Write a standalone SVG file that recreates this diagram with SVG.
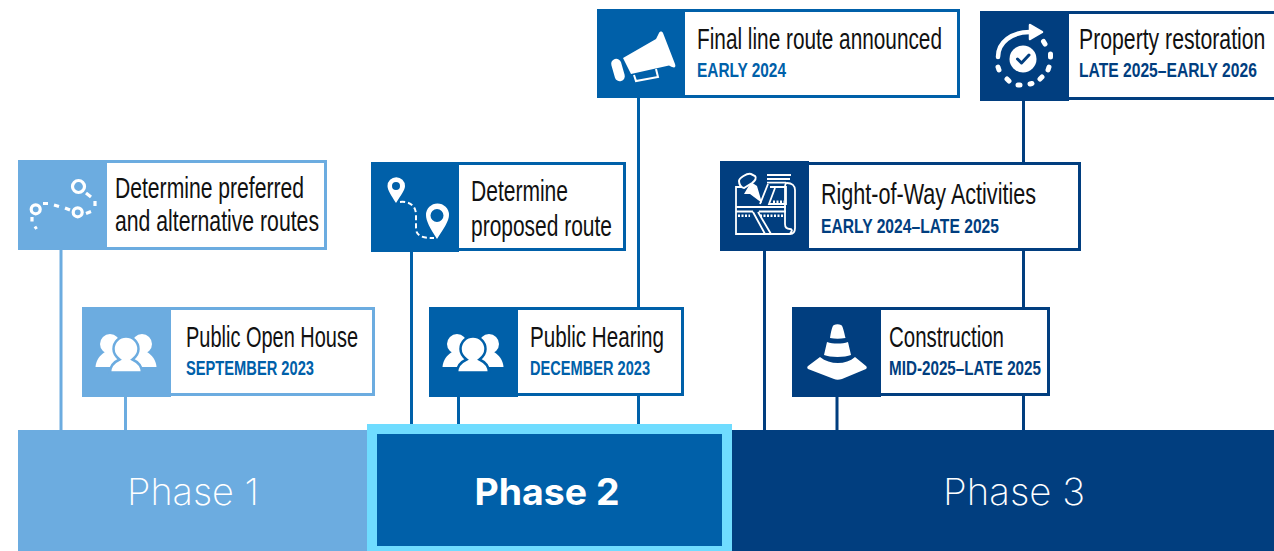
<svg xmlns="http://www.w3.org/2000/svg" xmlns:xlink="http://www.w3.org/1999/xlink" width="1274" height="551" viewBox="0 0 1274 551">
<style>
.t{font-family:"Liberation Sans",Arial,sans-serif;font-size:29px;fill:#111}
.d{font-family:"Liberation Sans",Arial,sans-serif;font-size:21px;font-weight:700}
.box{fill:#fff;stroke-width:3}
.p1 .box{stroke:#6cace0}.p1 .ic{fill:#6cace0}.p1 .d{fill:#0060a9}
.p2 .box{stroke:#0060a9}.p2 .ic{fill:#0060a9}.p2 .d{fill:#0060a9}
.p3 .box{stroke:#013e7f}.p3 .ic{fill:#013e7f}.p3 .d{fill:#013e7f}
.ph{font-family:Inter,"Liberation Sans",sans-serif;font-size:37px;fill:#fff;text-anchor:middle}
.w{fill:#fff}.wl{fill:none;stroke:#fff}
.c{stroke-width:3;fill:none}
</style>
<defs>
<g id="people">
<circle cx="-16" cy="-10" r="10" class="w"/><circle cx="16" cy="-10" r="10" class="w"/>
<path class="w" d="M-30.500 13C-30 6-26 1-21-2H21C26 1 30 6 30.500 13Z"/>
<path d="M-16 18.500C-16 12-12 8-6.500 5.500C-11 2-12.500-1-12.500-5A12.500 12.500 0 1 1 12.500-5C12.500-1 11 2 6.500 5.500C12 8 16 12 16 18.500Z" fill="#fff" stroke="var(--bg)" stroke-width="2.500"/>
</g>
</defs>
<g id="connectors" class="c">
<path stroke="#6cace0" d="M61 250V430M125.500 396V430"/>
<path stroke="#0060a9" d="M411.500 251V424M458.500 396V424M638.500 98V307M638.500 396V424"/>
<path stroke="#013e7f" d="M764.500 251V430M837 396V430M1023.500 100V162M1023.500 251V307M1023.500 396V430"/>
</g>
<g id="phase1"><rect x="18" y="430" width="350" height="121" fill="#6cace0"/><text class="ph" x="193" y="505" font-weight="200" textLength="132" lengthAdjust="spacingAndGlyphs">Phase 1</text></g>
<g id="phase3"><rect x="732" y="430" width="542" height="121" fill="#013e7f"/><text class="ph" x="1014" y="505" font-weight="200" textLength="142" lengthAdjust="spacingAndGlyphs">Phase 3</text></g>
<g id="phase2"><rect x="372" y="429" width="355" height="122" fill="#0060a9" stroke="#6fdcff" stroke-width="10"/><text class="ph" x="547" y="505" font-weight="700" textLength="145" lengthAdjust="spacingAndGlyphs">Phase 2</text></g>

<g id="n1" class="p1">
<rect class="box" x="19.500" y="161.500" width="306" height="87"/><rect class="ic" x="18" y="160" width="89" height="90"/>
<g class="wl" stroke-width="3.200"><circle cx="78.500" cy="186.500" r="6"/><circle cx="35.700" cy="209.300" r="4.500"/><circle cx="77.700" cy="212.300" r="4.500"/>
<path d="M43 203.500H48M54 205L59 206.500M65 208L70 210M86 213.500L91 211.500M95 206V201M86 193L91 197M32 217V221.500M34.500 228.500L37 227"/></g>
<text class="t" x="115" y="198" textLength="189" lengthAdjust="spacingAndGlyphs">Determine preferred</text>
<text class="t" x="115" y="231" textLength="204" lengthAdjust="spacingAndGlyphs">and alternative routes</text>
</g>
<g id="n2" class="p1" style="--bg:#6cace0">
<rect class="box" x="83.500" y="308.500" width="290" height="86"/><rect class="ic" x="82" y="307" width="89" height="90"/>
<use xlink:href="#people" href="#people" x="126" y="354"/>
<text class="t" x="186" y="347" textLength="172" lengthAdjust="spacingAndGlyphs">Public Open House</text>
<text class="d" x="186" y="375" textLength="128" lengthAdjust="spacingAndGlyphs">SEPTEMBER 2023</text>
</g>
<g id="n3" class="p2">
<rect class="box" x="372.500" y="163.500" width="252" height="86"/><rect class="ic" x="371" y="162" width="88" height="90"/>
<path class="w" fill-rule="evenodd" d="M396 203C391 195 387.500 190 387.500 186A8.500 8.500 0 0 1 405 186C405 190 401 195 396 203ZM396 182A4 4 0 1 0 396 190A4 4 0 1 0 396 182Z"/>
<path class="w" fill-rule="evenodd" d="M437 239C430 228 426 221 426 215A11.500 11.500 0 0 1 449 215C449 221 444 228 437 239ZM437 209A6.500 6.500 0 1 0 437 222A6.500 6.500 0 1 0 437 209Z"/>
<path class="wl" stroke-width="2" stroke-dasharray="5 3" d="M400 202C410 201 416 206 416 215V228C416 236 422 238 434 238"/>
<text class="t" x="471" y="201" textLength="97" lengthAdjust="spacingAndGlyphs">Determine</text>
<text class="t" x="471" y="236" textLength="141" lengthAdjust="spacingAndGlyphs">proposed route</text>
</g>
<g id="n4" class="p2" style="--bg:#0060a9">
<rect class="box" x="430.500" y="308.500" width="252" height="86"/><rect class="ic" x="429" y="307" width="89" height="90"/>
<use xlink:href="#people" href="#people" x="473" y="354"/>
<text class="t" x="530" y="347" textLength="134" lengthAdjust="spacingAndGlyphs">Public Hearing</text>
<text class="d" x="530" y="375" textLength="120" lengthAdjust="spacingAndGlyphs">DECEMBER 2023</text>
</g>
<g id="n5" class="p2">
<rect class="box" x="598.500" y="10.500" width="360" height="86"/><rect class="ic" x="597" y="9" width="88" height="89"/>
<path class="w" d="M623 58L656 39L659 33C660 31 662 31 663 33L675 64C676 67 675 68 672 67L669 65.500L631 74Z"/>
<rect class="w" x="-5" y="-11.500" width="10" height="23" rx="5" transform="translate(618 70) rotate(-16)"/>
<path class="wl" stroke-width="2" d="M634 75L636 81L658 77L656 69"/>
<text class="t" x="697" y="49" textLength="245" lengthAdjust="spacingAndGlyphs">Final line route announced</text>
<text class="d" x="697" y="77" textLength="89" lengthAdjust="spacingAndGlyphs">EARLY 2024</text>
</g>
<g id="n6" class="p3">
<path class="box" d="M1274 12.500H981.500V98.500H1274"/><rect class="ic" x="980" y="11" width="89" height="90"/>
<circle class="w" cx="1023" cy="59" r="13.500"/>
<path fill="none" stroke="#013e7f" stroke-width="3" stroke-linecap="round" stroke-linejoin="round" d="M1017.500 59L1021.500 63L1029 55"/>
<path class="wl" stroke-width="4.500" stroke-linecap="round" d="M998 57C998 42 1012 32 1030 32"/>
<path class="w" d="M1030 25L1042 32L1030 39Z" stroke="#fff" stroke-linejoin="round" stroke-width="2.500"/>
<path class="wl" stroke-width="5" stroke-linecap="round" d="M1043.500 41.500L1045 44M1050.500 54V57M1049 67L1048 70M1042 77L1040 79M1032 83.500L1030 84M1018 85H1020M1007 79L1009 81M998 67L999 70"/>
<text class="t" transform="translate(1079 49) scale(.732 1)">Property restoration</text>
<text class="d" transform="translate(1079 77) scale(.745 1)">LATE 2025–EARLY 2026</text>
</g>
<g id="n7" class="p3">
<rect class="box" x="721.500" y="163.500" width="358" height="86"/><rect class="ic" x="720" y="161" width="89" height="90"/>
<g class="wl" stroke-width="1.800">
<path d="M745 187H736V234H790C794 234 795 231 795 228V190C795 186 792 183 787 183C785 183 785 186 785 188V224C785 228 788 229 790 229C792 229 793 231 790 233"/>
<path d="M736 207H786M736 211.500H753M759 211.500H786M753 212L765 234M758 212L771 234M768 184L760 204M775 188L769 204H786V187H770"/>
<path d="M767 175H791M767 179H790M767 182.700H786"/>
<path stroke-width="2.500" stroke-dasharray="2 1.500" d="M738 215.700H750M760 215.700H783M773 201.700H784"/>
</g>
<path class="w" d="M751 182L757 186L762 203L750 194L744 194Z"/>
<path d="M739 181C739 178 747 173 751 174L755 176C757 178 755 181 752 183L744 188C741 188 739 184 739 181Z" fill="#013e7f" stroke="#fff" stroke-width="2"/>
<text class="t" x="821" y="204" textLength="215" lengthAdjust="spacingAndGlyphs">Right-of-Way Activities</text>
<text class="d" x="821" y="233" textLength="178" lengthAdjust="spacingAndGlyphs">EARLY 2024–LATE 2025</text>
</g>
<g id="n8" class="p3">
<rect class="box" x="793.500" y="308.500" width="255" height="86"/><rect class="ic" x="792" y="307" width="89" height="90"/>
<path class="w" d="M834 325C836 324 839 324 841 325C843 326 844 332 845.500 338C840 339 835 339 830 338C831 332 832 326 834 325Z"/>
<path class="w" d="M827 342C833 344 842 344 848 342L851 355C845 357.500 830 357.500 824 355Z"/>
<path class="w" d="M820 357C830 365 846 365 855 357L866 366C867 367 867 368 866 369L842 379C839 380 836 380 834 379L808 369C807 368 807 367 808 366Z"/>
<text class="t" x="889" y="347" textLength="115" lengthAdjust="spacingAndGlyphs">Construction</text>
<text class="d" x="889" y="375" textLength="152" lengthAdjust="spacingAndGlyphs">MID-2025–LATE 2025</text>
</g>
</svg>
